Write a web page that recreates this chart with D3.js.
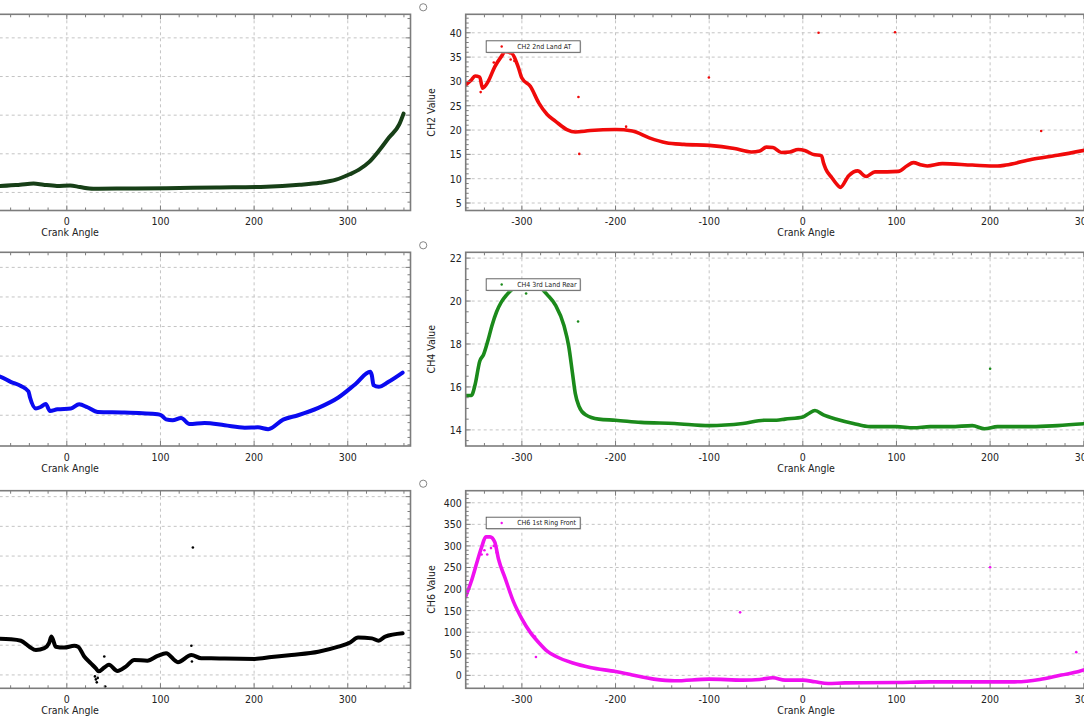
<!DOCTYPE html>
<html>
<head>
<meta charset="utf-8">
<script src="https://cdn.jsdelivr.net/npm/d3@7"></script>
<style>
  html, body { margin: 0; padding: 0; background: #fff; overflow: hidden; }
  svg { display: block; }
  text { font-family: "DejaVu Sans Condensed", "DejaVu Sans", sans-serif; fill: #222; }
</style>
</head>
<body>
<div id="chart"></div>
<script>
// Six channel traces against crank angle. The screenshot is cropped, so the
// left column only shows from about -75 deg and the right column stops near 300 deg.

var angleDomain = [-360, 367];
var angleTicks = [-300, -200, -100, 0, 100, 200, 300];

// CH1 (left column, top) - dark green
var ch1Angle = [-85, -71, -50, -35.5, -25, -10.6, 3.5, 14, 28.4, 53, 106.5, 160, 213, 248.5, 270, 287.5, 302, 312, 323, 333.7, 344, 355, 359.6];
var ch1Value = [11.7, 11.7, 12.0, 12.3, 12.0, 11.7, 11.8, 11.4, 10.95, 11.0, 11.1, 11.3, 11.5, 12.0, 12.5, 13.3, 14.7, 15.9, 17.9, 20.9, 24.2, 27.6, 30.4];
var ch1Ticks = [10, 20, 30, 40, 50];

// CH2 2nd Land AT (right column, top) - red
var ch2Angle = [-360, -354, -350, -345, -342, -336, -329, -322, -318, -311, -304, -300, -291, -282, -273, -264, -252, -243, -227, -200, -182, -164, -146, -127, -100, -73, -55, -46, -39, -32, -23, -14, -5, 2, 11, 20, 22, 24.5, 31, 38, 40, 49, 58.5, 67.6, 77, 90, 102, 111, 118, 127, 133, 149, 181, 208, 217, 245, 272, 305];
var ch2Value = [29.3, 30.3, 31.1, 30.9, 28.6, 30, 33, 35.1, 36.1, 35.8, 33, 30.7, 29, 25.6, 23.2, 21.8, 20.1, 19.6, 19.9, 20.1, 19.8, 18.4, 17.4, 17.05, 16.85, 16.2, 15.5, 15.7, 16.5, 16.4, 15.4, 15.5, 16, 15.8, 15, 14.7, 13.3, 12, 10.2, 8.5, 8.2, 10.6, 11.6, 10.45, 11.4, 11.4, 11.5, 12.6, 13.3, 12.8, 12.6, 13.1, 12.8, 12.6, 12.8, 14.0, 14.8, 16.0];
var ch2StrayAngle = [16.8, 98.5, -100.3, -239.6, -238.7, -188.7, 254.5, -344, -341, -330, -312, -308];
var ch2StrayValue = [40, 40.1, 30.8, 26.8, 15.1, 20.7, 19.8, 27.8, 28.9, 33.9, 34.5, 34.2];
var ch2Ticks = [5, 10, 15, 20, 25, 30, 35, 40];

// CH3 (left column, middle) - blue
var ch3Angle = [-85, -70.7, -60, -49, -41, -39.3, -33, -28, -22.5, -18, -10, 4.3, 13.2, 22, 33, 61.4, 97, 100.7, 106, 113, 122, 131, 147, 168.6, 190, 204, 215, 231, 247, 268.6, 290, 308, 324, 325.7, 327.5, 333, 343.6, 358.6];
var ch3Value = [3.42, 3.30, 3.13, 2.99, 2.81, 2.6, 2.23, 2.28, 2.38, 2.14, 2.2, 2.23, 2.37, 2.27, 2.11, 2.09, 2.03, 2.0, 1.86, 1.83, 1.91, 1.7, 1.74, 1.66, 1.58, 1.59, 1.53, 1.85, 2.0, 2.25, 2.6, 3.05, 3.47, 3.35, 3.02, 2.96, 3.13, 3.44];
var ch3Ticks = [2, 3, 4, 5, 6, 7];

// CH4 3rd Land Rear (right column, middle) - green
var ch4Angle = [-360, -354, -350, -345, -341, -336, -332, -327, -322, -316, -309, -300, -291, -282, -273, -264, -255, -250, -246, -243, -239, -232, -218, -200, -173, -137, -100, -64, -41, -28, -19, 0, 6, 13, 22, 36, 54, 72, 100, 118, 136, 158, 181, 194, 208, 245, 272, 305];
var ch4Value = [15.6, 15.6, 16.1, 17.2, 17.5, 18.2, 18.85, 19.5, 19.95, 20.3, 20.6, 20.9, 20.9, 20.7, 20.3, 19.8, 18.85, 17.9, 16.65, 15.7, 15.1, 14.7, 14.5, 14.45, 14.35, 14.3, 14.2, 14.3, 14.45, 14.45, 14.5, 14.6, 14.75, 14.9, 14.7, 14.5, 14.3, 14.15, 14.15, 14.1, 14.15, 14.15, 14.2, 14.05, 14.15, 14.15, 14.2, 14.3];
var ch4StrayAngle = [-295.5, -240, 200];
var ch4StrayValue = [20.35, 19.05, 16.85];
var ch4Ticks = [14, 16, 18, 20, 22];

// CH5 (left column, bottom) - black
var ch5Angle = [-85, -60, -49, -40, -33, -24, -19, -16.4, -11.8, -3, 8, 12, 18.6, 25.7, 31, 34, 40, 45, 54, 63, 72, 86, 97, 106, 118.6, 133, 143.6, 154, 168.6, 200.7, 218.6, 240, 268.6, 290, 302.5, 311, 325.7, 333, 340, 358.6];
var ch5Value = [2.23, 2.2, 2.15, 1.95, 1.84, 1.9, 2.07, 2.29, 1.95, 1.92, 1.98, 1.95, 1.62, 1.39, 1.22, 1.12, 1.25, 1.34, 1.13, 1.28, 1.5, 1.48, 1.64, 1.73, 1.43, 1.67, 1.56, 1.56, 1.55, 1.54, 1.6, 1.67, 1.78, 1.95, 2.09, 2.26, 2.23, 2.15, 2.29, 2.4];
var ch5StrayAngle = [30, 31, 32, 33, 40, 41, 133, 133.6, 134.6];
var ch5StrayValue = [0.95, 0.85, 0.75, 0.9, 1.62, 0.61, 1.98, 1.45, 5.29];
var ch5Ticks = [1, 2, 3, 4, 5, 6, 7];

// CH6 1st Ring Front (right column, bottom) - magenta
var ch6Angle = [-360, -354, -347.5, -343, -338.5, -334, -329, -325, -318, -309, -300, -291, -282, -273, -264, -245.5, -227, -200, -182, -159, -137, -100, -64, -46, -32, -19, 0, 13, 27, 45, 100, 136, 181, 226, 253, 276, 294.6, 305];
var ch6Value = [182.6, 218, 265.6, 297, 321, 321, 309, 269.6, 226, 170.8, 131, 99.6, 75.9, 56, 44.3, 28.5, 18.2, 8.7, 0.8, -8.7, -12.6, -8.7, -11, -9.5, -5.5, -11, -11, -15, -19, -17.4, -16.6, -15, -15, -15, -9.5, 0.8, 8.7, 16];
var ch6StrayAngle = [-286, -285, -67, 200, 292, -343, -340, -337, -333, -330, -327, -324];
var ch6StrayValue = [90, 42.7, 146, 250.6, 53.8, 280, 290, 280, 295, 300, 285, 262];
var ch6Ticks = [0, 50, 100, 150, 200, 250, 300, 350, 400];

// layout of the (cropped) window
var width = 1084, height = 722;
var colLeft = [-270.3, 465.7];
var plotW = 680.8;
var rowTop = [14.3, 252.3, 490.7];
var rowH = [196.2, 193.7, 197.6];

var panels = [
  { col: 0, row: 0, angle: ch1Angle, value: ch1Value, ticks: ch1Ticks, yDomain: [5.33, 56.1], minor: 4, color: "#173f17" },
  { col: 1, row: 0, angle: ch2Angle, value: ch2Value, strayA: ch2StrayAngle, strayV: ch2StrayValue, ticks: ch2Ticks, yDomain: [3.46, 43.8], minor: 5, color: "#f00a0a", title: "CH2 Value", legend: "CH2 2nd Land AT" },
  { col: 0, row: 1, angle: ch3Angle, value: ch3Value, ticks: ch3Ticks, yDomain: [0.96, 7.51], minor: 4, color: "#0a0af0" },
  { col: 1, row: 1, angle: ch4Angle, value: ch4Value, strayA: ch4StrayAngle, strayV: ch4StrayValue, ticks: ch4Ticks, yDomain: [13.25, 22.27], minor: 4, color: "#1b8a1b", title: "CH4 Value", legend: "CH4 3rd Land Rear" },
  { col: 0, row: 2, angle: ch5Angle, value: ch5Value, strayA: ch5StrayAngle, strayV: ch5StrayValue, ticks: ch5Ticks, yDomain: [0.55, 7.2], minor: 4, color: "#000000" },
  { col: 1, row: 2, angle: ch6Angle, value: ch6Value, strayA: ch6StrayAngle, strayV: ch6StrayValue, ticks: ch6Ticks, yDomain: [-30, 428], minor: 5, color: "#f010f0", title: "CH6 Value", legend: "CH6 1st Ring Front" }
];

var svg = d3.select("#chart").append("svg")
  .attr("width", width)
  .attr("height", height);

var borderColor = "#7c7c7c";

panels.forEach(function(p, i) {
  var x0 = colLeft[p.col], y0 = rowTop[p.row], h = rowH[p.row];

  var x = d3.scaleLinear().domain(angleDomain).range([0, plotW]);
  var y = d3.scaleLinear().domain(p.yDomain).range([h, 0]);

  var g = svg.append("g").attr("transform", "translate(" + x0 + "," + y0 + ")");

  // little round handle at the corner of each plot
  g.append("circle")
    .attr("cx", -42.5).attr("cy", -7).attr("r", 3.6)
    .attr("fill", "#fff").attr("stroke", "#777").attr("stroke-width", 0.9);

  // grid
  g.append("g").selectAll("line").data(angleTicks).join("line")
    .attr("x1", function(d) { return x(d); }).attr("x2", function(d) { return x(d); })
    .attr("y1", 0).attr("y2", h)
    .attr("stroke", "#c4c4c4").attr("stroke-dasharray", "3,3");
  g.append("g").selectAll("line").data(p.ticks).join("line")
    .attr("x1", 0).attr("x2", plotW)
    .attr("y1", function(d) { return y(d); }).attr("y2", function(d) { return y(d); })
    .attr("stroke", "#c4c4c4").attr("stroke-dasharray", "3,3");

  // data
  var clipId = "clip" + i;
  g.append("clipPath").attr("id", clipId)
    .append("rect").attr("width", plotW).attr("height", h);
  var data = p.angle.map(function(a, k) { return [a, p.value[k]]; });
  var line = d3.line()
    .x(function(d) { return x(d[0]); })
    .y(function(d) { return y(d[1]); })
    .curve(d3.curveMonotoneX);
  var dg = g.append("g").attr("clip-path", "url(#" + clipId + ")");
  dg.append("path")
    .attr("d", line(data))
    .attr("fill", "none")
    .attr("stroke", p.color)
    .attr("stroke-width", p.col === 0 ? 4 : 3.6)
    .attr("stroke-linejoin", "round")
    .attr("stroke-linecap", "round");
  if (p.strayA) {
    dg.selectAll("circle.stray").data(p.strayA).join("circle")
      .attr("class", "stray")
      .attr("cx", function(d) { return x(d); })
      .attr("cy", function(d, k) { return y(p.strayV[k]); })
      .attr("r", 1.3)
      .attr("fill", p.color);
  }

  // ticks on all four sides, pointing inward
  var xStep = (angleTicks[1] - angleTicks[0]) / 5;
  var xMinor = d3.range(Math.ceil(angleDomain[0] / xStep) * xStep, angleDomain[1], xStep);
  var yStep = (p.ticks[1] - p.ticks[0]) / p.minor;
  var yMinor = d3.range(Math.ceil(p.yDomain[0] / yStep) * yStep, p.yDomain[1], yStep);
  function isMajor(v, list) { return list.some(function(t) { return Math.abs(t - v) < 1e-6; }); }
  var tg = g.append("g").attr("stroke", borderColor).attr("stroke-width", 1);
  xMinor.forEach(function(v) {
    var len = isMajor(v, angleTicks) ? 5 : 3;
    tg.append("line").attr("x1", x(v)).attr("x2", x(v)).attr("y1", h).attr("y2", h - len);
    tg.append("line").attr("x1", x(v)).attr("x2", x(v)).attr("y1", 0).attr("y2", len);
  });
  yMinor.forEach(function(v) {
    var len = isMajor(v, p.ticks) ? 5 : 3;
    tg.append("line").attr("x1", 0).attr("x2", len).attr("y1", y(v)).attr("y2", y(v));
    tg.append("line").attr("x1", plotW).attr("x2", plotW - len).attr("y1", y(v)).attr("y2", y(v));
  });

  // frame
  g.append("rect")
    .attr("width", plotW).attr("height", h)
    .attr("fill", "none").attr("stroke", borderColor).attr("stroke-width", 1.6);

  // axis labels; those that fall wholly outside the cropped window are skipped
  var visibleTicks = angleTicks.filter(function(d) { return x0 + x(d) + 12 > 0; });
  g.append("g").selectAll("text").data(visibleTicks).join("text")
    .attr("x", function(d) { return x(d); })
    .attr("y", h + 15)
    .attr("text-anchor", "middle")
    .attr("font-size", 10.5)
    .text(function(d) { return d; });
  g.append("text")
    .attr("x", plotW / 2).attr("y", h + 26)
    .attr("text-anchor", "middle")
    .attr("font-size", 10.5)
    .text("Crank Angle");
  if (x0 > 0) {
    g.append("g").selectAll("text").data(p.ticks).join("text")
      .attr("x", -4)
      .attr("y", function(d) { return y(d) + 4; })
      .attr("text-anchor", "end")
      .attr("font-size", 10.5)
      .text(function(d) { return d; });
  }
  if (p.title) {
    g.append("text")
      .attr("transform", "translate(-31," + (h / 2) + ") rotate(-90)")
      .attr("text-anchor", "middle")
      .attr("font-size", 10.5)
      .text(p.title);
  }

  // legend
  if (p.legend) {
    var lg = g.append("g").attr("transform", "translate(20.5," + 26.5 + ")");
    lg.append("rect").attr("x", 1).attr("y", 1).attr("width", 94).attr("height", 11.5).attr("fill", "#d8d8d8");
    lg.append("rect").attr("width", 94).attr("height", 11.5)
      .attr("fill", "#fff").attr("stroke", "#555").attr("stroke-width", 0.9);
    lg.append("circle").attr("cx", 15.5).attr("cy", 5.75).attr("r", 1.2).attr("fill", p.color);
    lg.append("text").attr("x", 31).attr("y", 8.3).attr("font-size", 7).text(p.legend);
  }
});
</script>
</body>
</html>
